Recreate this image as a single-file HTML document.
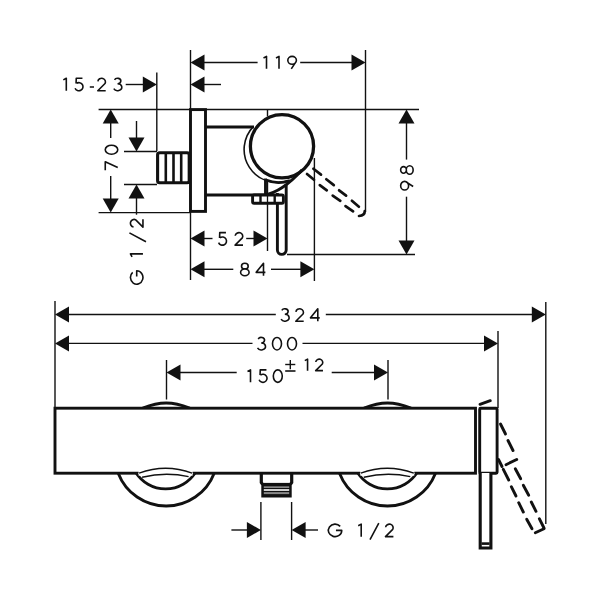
<!DOCTYPE html>
<html><head><meta charset="utf-8"><style>
html,body{margin:0;padding:0;background:#fff;width:600px;height:600px;overflow:hidden}
svg{display:block}
text{font-family:"Liberation Sans",sans-serif;fill:#111;stroke:none}
</style></head><body>
<svg width="600" height="600" viewBox="0 0 600 600">
<rect width="600" height="600" fill="#fff"/>
<g stroke="#111" fill="#111" stroke-linecap="butt">
<line x1="190.5" y1="50" x2="190.5" y2="280" stroke-width="1.4" />
<line x1="365.5" y1="50" x2="365.5" y2="212" stroke-width="1.4" />
<line x1="156.8" y1="72.5" x2="156.8" y2="151" stroke-width="1.4" />
<line x1="98.6" y1="109.5" x2="419" y2="109.5" stroke-width="1.4" />
<line x1="98.6" y1="212.6" x2="190" y2="212.6" stroke-width="1.4" />
<line x1="124" y1="151.5" x2="157" y2="151.5" stroke-width="1.4" />
<line x1="124" y1="184.5" x2="157" y2="184.5" stroke-width="1.4" />
<line x1="267.5" y1="109" x2="267.5" y2="116.5" stroke-width="1.4" />
<line x1="267.5" y1="180" x2="267.5" y2="251" stroke-width="1.4" />
<line x1="314.4" y1="158" x2="314.4" y2="281" stroke-width="1.4" />
<line x1="287" y1="254.5" x2="415" y2="254.5" stroke-width="1.4" />
<polygon points="190.5,62.5 204.5,54.5 204.5,70.5" stroke="none"/>
<line x1="204" y1="62.5" x2="257.6" y2="62.5" stroke-width="1.4" />
<line x1="300.2" y1="62.5" x2="352" y2="62.5" stroke-width="1.4" />
<polygon points="365.5,62.5 351.5,54.5 351.5,70.5" stroke="none"/>
<path class="gl" d="M263.5,57.96 L266.5,56.35 L266.5,68.85 M276,57.96 L279,56.35 L279,68.85 M287.8,60.33 A4.3,3.98 0 1 1 296.4,60.33 A4.3,3.98 0 1 1 287.8,60.33 M296.25,61.37 L291.3,68.85" fill="none" stroke-width="1.6" stroke-linejoin="round"/>
<line x1="125.7" y1="84.5" x2="144" y2="84.5" stroke-width="1.4" />
<polygon points="156.8,84.5 142.8,76.5 142.8,92.5" stroke="none"/>
<polygon points="190.5,84.5 204.5,76.5 204.5,92.5" stroke="none"/>
<line x1="204" y1="84.5" x2="221" y2="84.5" stroke-width="1.4" />
<path class="gl" d="M63.3,79.86 L66.3,78.25 L66.3,90.75 M82.45,78.25 L76.25,78.25 L76.05,83.55 M76.43,83.43 A4.1,4.07 0 1 1 75.1,88.2 M89.8,87.06 L94,87.06 M97.89,81.35 A3.8,3.6 0 1 1 105.01,83.54 L97.8,90.75 L105.7,90.75 M114.52,79.84 A3.3,2.75 0 1 1 117.51,83.74 M117.61,83.74 A4.2,3.5 0 1 1 113.8,88.73" fill="none" stroke-width="1.6" stroke-linejoin="round"/>
<polygon points="110.7,109.5 102.7,123.5 118.7,123.5" stroke="none"/>
<line x1="110.7" y1="123" x2="110.7" y2="138" stroke-width="1.4" />
<line x1="110.7" y1="176" x2="110.7" y2="199" stroke-width="1.4" />
<polygon points="110.7,212.6 102.7,198.6 118.7,198.6" stroke="none"/>
<g class="gl" transform="translate(111.5,200) rotate(-90)"><path d="M29.8,-6.25 L38.2,-6.25 L32.4,6.25 M45.8,0 A4.5,6.25 0 1 1 54.8,0 A4.5,6.25 0 1 1 45.8,0" fill="none" stroke-width="1.6" stroke-linejoin="round"/></g>
<line x1="136.5" y1="121" x2="136.5" y2="138" stroke-width="1.4" />
<polygon points="136.5,151.5 128.5,137.5 144.5,137.5" stroke="none"/>
<polygon points="136.5,184.5 128.5,198.5 144.5,198.5" stroke="none"/>
<line x1="136.5" y1="198" x2="136.5" y2="214.7" stroke-width="1.4" />
<g class="gl" transform="translate(136.7,300) rotate(-90)"><path d="M27.69,-4.02 A6.7,6.25 0 1 0 29.25,0 L23.45,0 M43.1,-4.64 L46.1,-6.25 L46.1,6.25 M58.3,9.28 L67.1,-7.29 M72.99,-3.15 A3.8,3.6 0 1 1 80.11,-0.96 L72.9,6.25 L80.8,6.25" fill="none" stroke-width="1.6" stroke-linejoin="round"/></g>
<polygon points="406.5,109.5 398.5,123.5 414.5,123.5" stroke="none"/>
<line x1="406.5" y1="123" x2="406.5" y2="159.6" stroke-width="1.4" />
<line x1="406.5" y1="196.7" x2="406.5" y2="241" stroke-width="1.4" />
<polygon points="406.5,254.5 398.5,240.5 414.5,240.5" stroke="none"/>
<g class="gl" transform="translate(406.9,200) rotate(-90)"><path d="M10,-2.27 A4.3,3.98 0 1 1 18.6,-2.27 A4.3,3.98 0 1 1 10,-2.27 M18.45,-1.23 L13.5,6.25 M26.7,-3.36 A3.35,2.89 0 1 1 33.4,-3.36 A3.35,2.89 0 1 1 26.7,-3.36 M25.8,2.79 A4.25,3.46 0 1 1 34.3,2.79 A4.25,3.46 0 1 1 25.8,2.79" fill="none" stroke-width="1.6" stroke-linejoin="round"/></g>
<polygon points="190.5,238.5 204.5,230.5 204.5,246.5" stroke="none"/>
<line x1="204" y1="238.5" x2="212.5" y2="238.5" stroke-width="1.4" />
<line x1="246.2" y1="238.5" x2="254" y2="238.5" stroke-width="1.4" />
<polygon points="267.5,238.5 253.5,230.5 253.5,246.5" stroke="none"/>
<path class="gl" d="M225.95,232.65 L219.75,232.65 L219.55,237.95 M219.93,237.83 A4.1,4.07 0 1 1 218.6,242.6 M235.19,235.75 A3.8,3.6 0 1 1 242.31,237.94 L235.1,245.15 L243,245.15" fill="none" stroke-width="1.6" stroke-linejoin="round"/>
<polygon points="190.5,269.3 204.5,261.3 204.5,277.3" stroke="none"/>
<line x1="204" y1="269.3" x2="233.3" y2="269.3" stroke-width="1.4" />
<line x1="271" y1="269.3" x2="301" y2="269.3" stroke-width="1.4" />
<polygon points="314.4,269.3 300.4,261.3 300.4,277.3" stroke="none"/>
<path class="gl" d="M241.5,266.14 A3.35,2.89 0 1 1 248.2,266.14 A3.35,2.89 0 1 1 241.5,266.14 M240.6,272.29 A4.25,3.46 0 1 1 249.1,272.29 A4.25,3.46 0 1 1 240.6,272.29 M263.5,275.75 L263.5,263.25 L256.2,272.34 L265.4,272.34" fill="none" stroke-width="1.6" stroke-linejoin="round"/>
<rect x="190.5" y="109.6" width="15" height="101.8" fill="#fff" stroke-width="2.9"/>
<rect x="157.6" y="152.7" width="31.6" height="30" rx="2" fill="#fff" stroke-width="3.1"/>
<line x1="165.8" y1="152.7" x2="165.8" y2="182.7" stroke-width="2.6" />
<line x1="173.5" y1="152.7" x2="173.5" y2="182.7" stroke-width="2.6" />
<line x1="181.2" y1="152.7" x2="181.2" y2="182.7" stroke-width="2.6" />
<line x1="205.5" y1="127" x2="254" y2="127" stroke-width="2.9" />
<line x1="205.5" y1="195" x2="266" y2="195" stroke-width="2.9" />
<path d="M253.3,126.6 A33,33 0 0 0 287.7,180.7" fill="none" stroke-width="1.6"/>
<path d="M266,180 A33,33 0 0 0 290,180.5" fill="none" stroke-width="2.8"/>
<circle cx="282" cy="146.3" r="31.6" fill="none" stroke-width="3.3"/>
<line x1="265.5" y1="178.5" x2="265.5" y2="195" stroke-width="2.9" />
<path d="M302,170 Q282,192 264.5,195" fill="none" stroke-width="2.9"/>
<path d="M277.4,193 L277.4,250 A4.4,4.4 0 0 0 286.2,250 L286.2,184" fill="none" stroke-width="2.9"/>
<rect x="252.6" y="195" width="30.8" height="8.3" rx="1.5" fill="#fff" stroke-width="2.9"/>
<line x1="260.5" y1="195" x2="260.5" y2="203.3" stroke-width="2.4" />
<line x1="274.7" y1="195" x2="274.7" y2="203.3" stroke-width="2.4" />
<line x1="267.5" y1="195" x2="267.5" y2="203.3" stroke-width="1.3" />
<line x1="313.4" y1="168.8" x2="321" y2="174.6" stroke-width="2.7" stroke-linecap="round"/>
<line x1="326.3" y1="179.3" x2="333.8" y2="185.1" stroke-width="2.7" stroke-linecap="round"/>
<line x1="339.1" y1="190.3" x2="346.1" y2="195.6" stroke-width="2.7" stroke-linecap="round"/>
<line x1="351.9" y1="200.8" x2="358.9" y2="206.7" stroke-width="2.7" stroke-linecap="round"/>
<line x1="307" y1="174" x2="314" y2="179.8" stroke-width="2.7" stroke-linecap="round"/>
<line x1="319.8" y1="185.1" x2="326.8" y2="190.3" stroke-width="2.7" stroke-linecap="round"/>
<line x1="332.7" y1="195.6" x2="340.3" y2="200.8" stroke-width="2.7" stroke-linecap="round"/>
<line x1="345.5" y1="206.1" x2="353.1" y2="211.3" stroke-width="2.7" stroke-linecap="round"/>
<path d="M359,216 Q364.8,215.5 364.8,211" fill="none" stroke-width="2.7" stroke-linecap="round"/>
<line x1="55" y1="301" x2="55" y2="408" stroke-width="1.4" />
<line x1="545.8" y1="302" x2="545.8" y2="524" stroke-width="1.4" />
<line x1="498" y1="331" x2="498" y2="408" stroke-width="1.4" />
<line x1="166.5" y1="360" x2="166.5" y2="399.5" stroke-width="1.4" />
<line x1="388" y1="360" x2="388" y2="399.5" stroke-width="1.4" />
<line x1="260.9" y1="502" x2="260.9" y2="540" stroke-width="1.4" />
<line x1="291.6" y1="502" x2="291.6" y2="540" stroke-width="1.4" />
<polygon points="55,314.5 69,306.5 69,322.5" stroke="none"/>
<line x1="68" y1="314.5" x2="275.8" y2="314.5" stroke-width="1.4" />
<line x1="325.8" y1="314.5" x2="532" y2="314.5" stroke-width="1.4" />
<polygon points="545.8,314.5 531.8,306.5 531.8,322.5" stroke="none"/>
<path class="gl" d="M281.82,310.34 A3.3,2.75 0 1 1 284.81,314.24 M284.91,314.24 A4.2,3.5 0 1 1 281.1,319.23 M295.89,311.85 A3.8,3.6 0 1 1 303.01,314.04 L295.8,321.25 L303.7,321.25 M317.8,321.25 L317.8,308.75 L310.5,317.84 L319.7,317.84" fill="none" stroke-width="1.6" stroke-linejoin="round"/>
<polygon points="55,343.4 69,335.4 69,351.4" stroke="none"/>
<line x1="68" y1="343.4" x2="252.5" y2="343.4" stroke-width="1.4" />
<line x1="302.5" y1="343.4" x2="484.5" y2="343.4" stroke-width="1.4" />
<polygon points="498,343.4 484,335.4 484,351.4" stroke="none"/>
<path class="gl" d="M258.22,339.04 A3.3,2.75 0 1 1 261.21,342.94 M261.31,342.94 A4.2,3.5 0 1 1 257.5,347.93 M272.5,343.7 A4.5,6.25 0 1 1 281.5,343.7 A4.5,6.25 0 1 1 272.5,343.7 M287.5,343.7 A4.5,6.25 0 1 1 296.5,343.7 A4.5,6.25 0 1 1 287.5,343.7" fill="none" stroke-width="1.6" stroke-linejoin="round"/>
<polygon points="166.5,372.5 180.5,364.5 180.5,380.5" stroke="none"/>
<line x1="180" y1="372.5" x2="236.7" y2="372.5" stroke-width="1.4" />
<line x1="331.7" y1="372.5" x2="375" y2="372.5" stroke-width="1.4" />
<polygon points="388,372.5 374,364.5 374,380.5" stroke="none"/>
<path class="gl" d="M247.5,371.46 L250.5,369.85 L250.5,382.35 M266.45,369.85 L260.25,369.85 L260.05,375.15 M260.43,375.03 A4.1,4.07 0 1 1 259.1,379.8 M273.3,376.1 A4.5,6.25 0 1 1 282.3,376.1 A4.5,6.25 0 1 1 273.3,376.1" fill="none" stroke-width="1.6" stroke-linejoin="round"/>
<line x1="285.2" y1="364.5" x2="295.3" y2="364.5" stroke-width="1.4" />
<line x1="290.3" y1="360" x2="290.3" y2="369.3" stroke-width="1.4" />
<line x1="285.2" y1="371" x2="295.5" y2="371" stroke-width="1.6" />
<path class="gl" d="M304.8,360.63 L307.56,359.15 L307.56,370.65 M315.78,362 A3.5,3.31 0 1 1 322.33,364.01 L315.7,370.65 L322.97,370.65" fill="none" stroke-width="1.6" stroke-linejoin="round"/>
<line x1="231.4" y1="530" x2="248" y2="530" stroke-width="1.4" />
<polygon points="260.9,530 246.89999999999998,522 246.89999999999998,538" stroke="none"/>
<polygon points="291.6,530 305.6,522 305.6,538" stroke="none"/>
<line x1="305" y1="530" x2="318" y2="530" stroke-width="1.4" />
<path class="gl" d="M340.19,526.38 A6.7,6.25 0 1 0 341.75,530.4 L335.95,530.4 M358.2,525.76 L361.2,524.15 L361.2,536.65 M370,539.68 L378.8,523.11 M385.59,527.25 A3.8,3.6 0 1 1 392.71,529.44 L385.5,536.65 L393.4,536.65" fill="none" stroke-width="1.6" stroke-linejoin="round"/>
<path d="M142.7,408.2 C160.2,401.3 172.2,401.3 189.7,408.2" fill="#fff" stroke-width="2.9"/>
<path d="M118.19999999999999,473.2 A51.5,51.5 0 0 0 214.2,473.2" fill="#fff" stroke-width="2.9"/>
<path d="M364.0,408.2 C381.5,401.3 393.5,401.3 411.0,408.2" fill="#fff" stroke-width="2.9"/>
<path d="M339.5,473.2 A51.5,51.5 0 0 0 435.5,473.2" fill="#fff" stroke-width="2.9"/>
<rect x="55" y="408.2" width="420.5" height="65" fill="#fff" stroke-width="2.9"/>
<path d="M136.29999999999998,473.2 A35.2,35.2 0 0 0 194.9,473.2" fill="#fff" stroke-width="2.9"/>
<rect x="138.6" y="470.7" width="54" height="5" fill="#fff" stroke="none"/>
<path d="M139.1,473.2 Q165.6,463.2 192.1,473.2" fill="none" stroke-width="1.4"/>
<path d="M142.1,477.2 Q165.6,471.5 188.6,476.6" fill="none" stroke-width="1.4"/>
<path d="M358.0,473.2 A35.2,35.2 0 0 0 416.6,473.2" fill="#fff" stroke-width="2.9"/>
<rect x="360.3" y="470.7" width="54" height="5" fill="#fff" stroke="none"/>
<path d="M360.8,473.2 Q387.3,463.2 413.8,473.2" fill="none" stroke-width="1.4"/>
<path d="M363.8,477.2 Q387.3,471.5 410.3,476.6" fill="none" stroke-width="1.4"/>
<path d="M261.3,473 L261.3,482.5 L262.6,484.5 M291.7,473 L291.7,482.5 L290.4,484.5" fill="none" stroke-width="3.2"/>
<rect x="261.3" y="482.9" width="30.4" height="14.6" fill="#111" stroke="none"/>
<rect x="263.8" y="486.3" width="25.4" height="1.7" fill="#888" stroke="none"/>
<rect x="263.8" y="489.2" width="25.4" height="1.6" fill="#fff" stroke="none"/>
<rect x="263.8" y="492.1" width="25.4" height="2" fill="#888" stroke="none"/>
<rect x="479.7" y="408.2" width="17.4" height="65" rx="1" fill="#fff" stroke-width="2.9"/>
<path d="M480.2,473 L480.2,548 L490.9,548 L490.9,473" fill="#fff" stroke-width="3.1"/>
<line x1="481.5" y1="543.6" x2="489.6" y2="543.6" stroke-width="2.6" />
<line x1="480" y1="404.3" x2="490.3" y2="400.7" stroke-width="2.9" stroke-linecap="round"/>
<line x1="500.5" y1="424" x2="505.5" y2="434" stroke-width="2.9" stroke-linecap="round"/>
<line x1="508" y1="440.5" x2="513" y2="450.5" stroke-width="2.9" stroke-linecap="round"/>
<line x1="506" y1="464.7" x2="516.7" y2="459.5" stroke-width="2.9" stroke-linecap="round"/>
<line x1="498.5" y1="459.5" x2="502" y2="466.5" stroke-width="2.9" stroke-linecap="round"/>
<line x1="503.3" y1="469.3" x2="508.7" y2="480" stroke-width="2.9" stroke-linecap="round"/>
<line x1="511.3" y1="486.7" x2="516" y2="496" stroke-width="2.9" stroke-linecap="round"/>
<line x1="518.7" y1="502.7" x2="523.3" y2="512" stroke-width="2.9" stroke-linecap="round"/>
<line x1="526.7" y1="519.3" x2="532" y2="528.7" stroke-width="2.9" stroke-linecap="round"/>
<line x1="515.3" y1="468.7" x2="520.7" y2="478.7" stroke-width="2.9" stroke-linecap="round"/>
<line x1="523.3" y1="485.3" x2="528.7" y2="495.3" stroke-width="2.9" stroke-linecap="round"/>
<line x1="531.3" y1="502" x2="536" y2="511.3" stroke-width="2.9" stroke-linecap="round"/>
<line x1="539.3" y1="518.7" x2="544" y2="528" stroke-width="2.9" stroke-linecap="round"/>
<line x1="535.3" y1="532.7" x2="544" y2="528.7" stroke-width="2.9" stroke-linecap="round"/>
</g>
</svg>
</body></html>
